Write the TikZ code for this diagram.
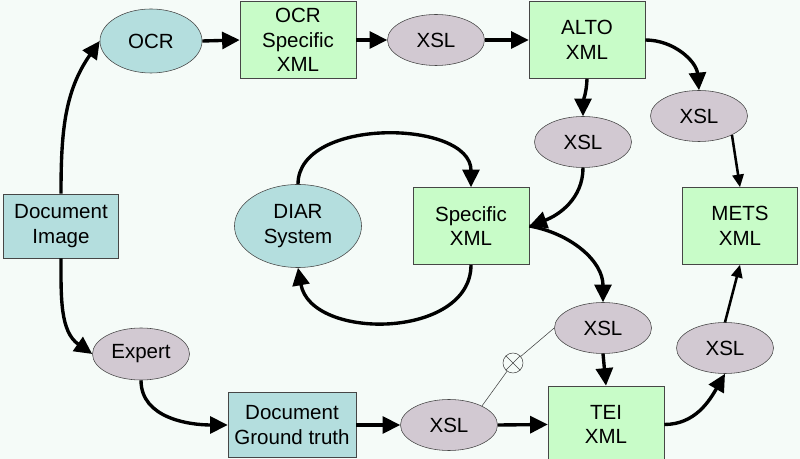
\documentclass[tikz,border=0pt]{standalone}
\usepackage{fontspec}
\setmainfont{Liberation Sans}
\usepackage{tikz}
\usetikzlibrary{arrows.meta,shapes.geometric}

\definecolor{bgmint}{RGB}{245,251,248}
\definecolor{tealfill}{RGB}{180,222,222}
\definecolor{greenfill}{RGB}{200,252,200}
\definecolor{greyfill}{RGB}{210,201,210}
\definecolor{edgegrey}{RGB}{70,70,70}

\tikzset{
  lbl/.style={font=\fontsize{14.6}{17.5}\selectfont, align=center, inner sep=0pt},
  tealbox/.style={lbl, draw=edgegrey, fill=tealfill, rectangle},
  greenbox/.style={lbl, draw=edgegrey, fill=greenfill, rectangle, minimum width=2.9cm, minimum height=1.925cm},
  tealell/.style={lbl, draw=edgegrey, fill=tealfill, ellipse},
  greyell/.style={lbl, draw=edgegrey, fill=greyfill, ellipse, minimum width=2.425cm, minimum height=1.275cm},
  flow/.style={line width=2.4pt, -{Triangle[length=12.5pt,width=12pt]}},
  thinflow/.style={line width=1.8pt, -{Triangle[length=9pt,width=8pt]}},
}

\begin{document}
\begin{tikzpicture}[x=0.025cm, y=0.025cm]
		%%%%% START %%%%%
		
		\fill[bgmint] (0, 0) rectangle (800, 459);
		\useasboundingbox (0, 0) rectangle (800, 459);
		
		% top row
		\node[tealell, minimum width=2.55cm, minimum height=1.6cm] (ocr) at (151, 418) {OCR};
		\node[greenbox] (ocrxml) at (298, 419) {OCR\\Specific\\XML};
		\node[greyell] (xsla) at (436, 419) {XSL};
		\node[greenbox] (alto) at (587, 419) {ALTO\\XML};
		\node[greyell] (xslb) at (583, 317) {XSL};
		\node[greyell] (xslc) at (699, 343) {XSL};
		
		% middle row
		\node[tealbox, minimum width=2.875cm, minimum height=1.6cm] (docimg) at (61, 233) {Document\\Image};
		\node[tealell, minimum width=3.175cm, minimum height=2.075cm] (diar) at (298, 233) {DIAR\\System};
		\node[greenbox] (spec) at (471, 233) {Specific\\XML};
		\node[greenbox, minimum width=2.875cm] (mets) at (740, 233) {METS\\XML};
		
		% bottom row
		\node[greyell, minimum height=1.3cm] (expert) at (141, 105) {Expert};
		\node[tealbox, minimum width=3.2cm, minimum height=1.625cm] (gt) at (292, 34) {Document\\Ground truth};
		\node[greyell] (xsld) at (449, 34) {XSL};
		\node[greenbox] (tei) at (606, 34.5) {TEI\\XML};
		\node[greyell] (xslm) at (603, 131) {XSL};
		\node[greyell] (xsle) at (725, 111) {XSL};
		\node[draw=edgegrey, circle, minimum size=0.5cm, inner sep=0pt] (nop) at (513, 96) {};
		\draw[edgegrey, line width=0.4pt] (nop.45) -- (nop.225) (nop.135) -- (nop.-45);
		
		% connectors
		\draw[flow] (docimg.north) to[out=90, in=235] (ocr.west);
		\draw[flow] (ocr.east) -- (ocrxml.west);
		\draw[flow] (ocrxml.east) -- (xsla.west);
		\draw[flow] (xsla.east) -- (alto.west);
		\draw[flow] (alto.south) to[out=-92, in=90] (xslb.north);
		\draw[flow] (alto.east) to[out=0, in=95] (xslc.north);
		\draw[flow] (xslb.south) to[out=-90, in=20] (spec.east);
		\draw[thinflow] (xslc.-30) -- (mets.north);
		
		\draw[flow] (diar.north) to[out=90, in=90] (spec.north);
		\draw[flow] (spec.south) to[out=-90, in=-80, looseness=1.1] (diar.south);
		\draw[flow] (spec.east) to[out=-10, in=90] (xslm.north);
		\draw[flow] (xslm.south) -- (tei.north);
		
		\draw[flow] (docimg.south) to[out=-90, in=145] (expert.west);
		\draw[flow] (expert.south) to[out=-90, in=180] (gt.west);
		\draw[flow] (gt.east) -- (xsld.west);
		\draw[flow] (xsld.east) -- (tei.west);
		\draw[flow] (tei.east) to[out=0, in=-120] (xsle.south);
		\draw[thinflow] (xsle.north) -- (mets.south);
		
		\draw[edgegrey, line width=0.4pt] (xsld.30) -- (nop) -- (xslm.west);
		
		%%%%% END %%%%%
	\end{tikzpicture}
\end{document}
